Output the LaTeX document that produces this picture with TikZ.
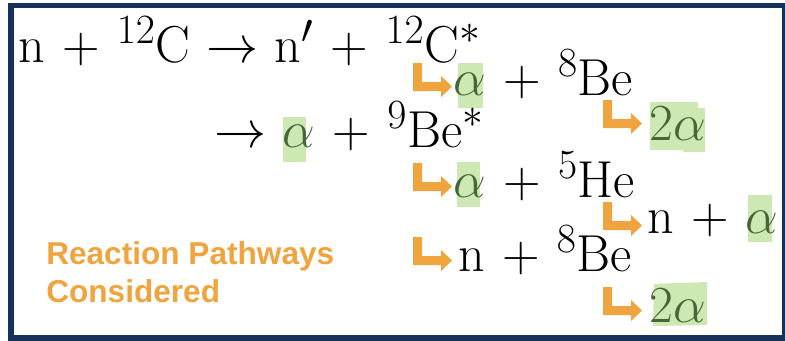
\RequirePackage{fix-cm}
\documentclass[tikz,border=0pt]{standalone}
\usepackage{fontspec}
\newfontfamily\labelfont{Liberation Sans}
\DeclareMathSizes{39}{39}{31.2}{23}
\medmuskip=6mu
\thickmuskip=5.6mu
\definecolor{navy}{HTML}{17325A}
\definecolor{orng}{HTML}{F0A43E}
\definecolor{hlgreen}{HTML}{CDE8B2}
\definecolor{agreen}{HTML}{46663A}
\newcommand{\ga}{{\color{agreen}\alpha}}
\tikzset{
  eq/.style={anchor=base west, inner sep=0pt, font=\fontsize{39}{47}\selectfont},
  lbl/.style={anchor=base west, inner sep=0pt, text=orng, font=\labelfont\bfseries\fontsize{23.7}{28}\selectfont},
  hl/.style={fill=hlgreen},
  elbow/.pic={\fill[orng] (0,0) -- (9,0) -- (9,19) -- (28,19) -- (28,13) -- (39,23.5) -- (28,34) -- (28,28) -- (0,28) -- cycle;}
}
\begin{document}
\begin{tikzpicture}[x=0.75pt,y=-0.75pt]
\useasboundingbox (0,0) rectangle (785,340);
\clip (0,0) rectangle (785,340);
\fill[white] (0,0) rectangle (785,340);
% highlight boxes
\fill[hl] (458,63) rectangle (483,108);
\fill[hl] (283,117) rectangle (306,162);
\fill[hl] (650,102) -- (698,102) -- (698,108) -- (705,108) -- (705,152) -- (683,152) -- (683,150) -- (650,150) -- cycle;
\fill[hl] (457,162) rectangle (480,207);
\fill[hl] (748,195) rectangle (772,242);
\fill[hl] (654,284) -- (707,282) -- (707,325) -- (653,326) -- cycle;
% equations
\node[eq] (l1) at (18,62) {$\mathrm{n} + {}^{12}\mathrm{C} \rightarrow \mathrm{n}' + {}^{12}\mathrm{C}^{*}$};
\node[eq] (l2) at (453,95) {$\ga + {}^{8}\mathrm{Be}$};
\node[eq] (l2b) at (649,140) {$\color{agreen}2\alpha$};
\node[eq] (l3) at (214,147) {$\rightarrow \ga + {}^{9}\mathrm{Be}^{*}$};
\node[eq] (l4) at (453,197) {$\ga + {}^{5}\mathrm{He}$};
\node[eq] (l5) at (647,233) {$\mathrm{n} + \ga$};
\node[eq] (l6) at (458,271) {$\mathrm{n} + {}^{8}\mathrm{Be}$};
\node[eq] (l7) at (649,322) {$\color{agreen}2\alpha$};
% elbow arrows
\pic (a1) at (413,63) {elbow};
\pic (a2) at (603,100) {elbow};
\pic (a3) at (413,163) {elbow};
\pic (a4) at (603,202) {elbow};
\pic (a5) at (413,237) {elbow};
\pic (a6) at (603,287) {elbow};
% label
\node[lbl] (t1) at (46,264.5) {Reaction Pathways};
\node[lbl] (t2) at (46,302) {Considered};
% frame
\draw[navy, line width=4.1pt] (11,5.5) rectangle (784.5,338);
\end{tikzpicture}
\end{document}
